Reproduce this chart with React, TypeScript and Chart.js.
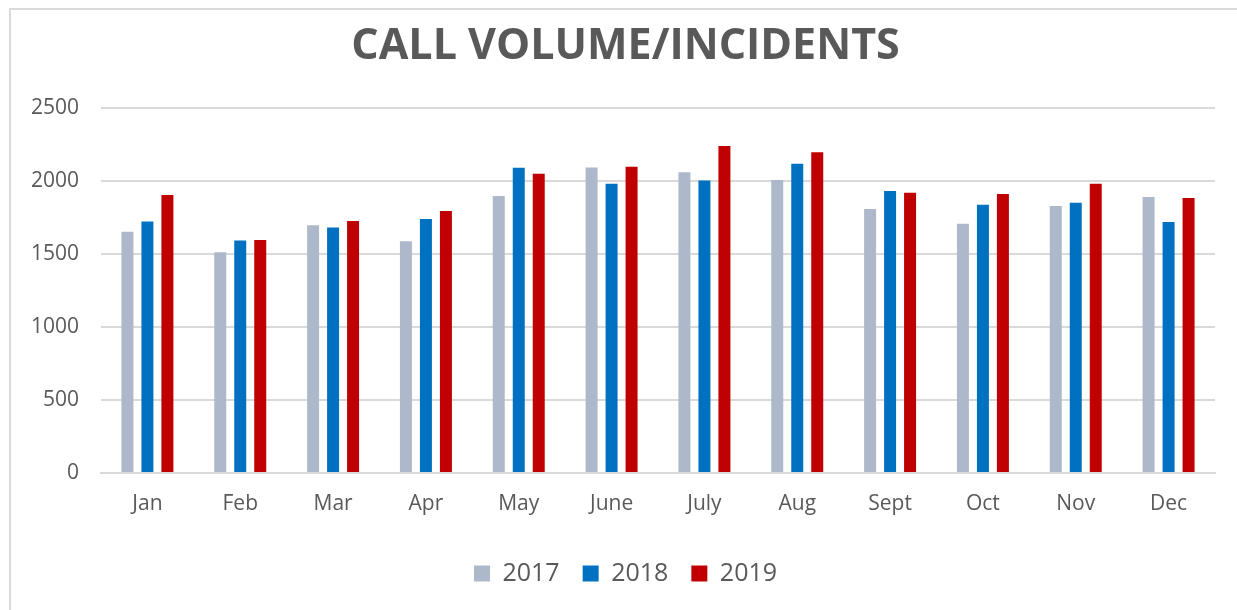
import React, { useEffect, useRef } from "react";
import { Chart, registerables } from "chart.js";

Chart.register(...registerables);

const months = ["Jan", "Feb", "Mar", "Apr", "May", "June", "July", "Aug", "Sept", "Oct", "Nov", "Dec"];
const v2017 = [1650, 1510, 1695, 1585, 1895, 2090, 2057, 2005, 1806, 1705, 1827, 1888];
const v2018 = [1720, 1590, 1680, 1738, 2089, 1979, 2002, 2116, 1929, 1836, 1849, 1717];
const v2019 = [1902, 1594, 1724, 1792, 2048, 2096, 2237, 2194, 1918, 1909, 1979, 1881];
const seriesLabels = ["2017", "2018", "2019"];
const titleText = "CALL VOLUME/INCIDENTS";

const TEXT = "#595959";
const GRID = "#d9d9d9";
const FONT = "'Open Sans', 'Liberation Sans', sans-serif";

export default function App() {
  const ref = useRef<HTMLCanvasElement | null>(null);

  useEffect(() => {
    if (!ref.current) return;
    const chart = new Chart(ref.current, {
      type: "bar",
      data: {
        labels: months,
        datasets: [
          { label: seriesLabels[0], data: v2017, backgroundColor: "#adb9ca" },
          { label: seriesLabels[1], data: v2018, backgroundColor: "#0070c0" },
          { label: seriesLabels[2], data: v2019, backgroundColor: "#c00000" },
        ],
      },
      options: {
        animation: false,
        responsive: false,
        maintainAspectRatio: false,
        layout: { padding: { left: 14, right: 0, top: 0, bottom: 14 } },
        datasets: { bar: { categoryPercentage: 0.646, barPercentage: 0.6 } },
        plugins: {
          tooltip: { enabled: false },
          title: {
            display: true,
            text: titleText,
            color: TEXT,
            font: { family: FONT, size: 43, weight: "bold", lineHeight: 1.2 },
            padding: { top: 21, bottom: 35 },
          },
          legend: {
            position: "bottom",
            labels: {
              color: TEXT,
              font: { family: FONT, size: 25 },
              boxWidth: 16,
              boxHeight: 16,
              padding: 23,
            },
          },
        },
        scales: {
          x: {
            grid: { display: false },
            border: { display: true, color: GRID, width: 2 },
            ticks: { color: TEXT, font: { family: FONT, size: 21 }, padding: 10, maxRotation: 0 },
            afterFit: (s: any) => { s.height = 65; },
          },
          y: {
            min: 0,
            max: 2500,
            ticks: {
              stepSize: 500,
              color: TEXT,
              font: { family: FONT, size: 21 },
              padding: 22,
              callback: (v: any) => String(v),
            },
            grid: { color: GRID, lineWidth: 2, drawTicks: false },
            border: { display: false },
            afterFit: (s: any) => { s.width = 87; },
          },
          yRight: {
            position: "right",
            display: true,
            ticks: { display: false },
            grid: { display: false, drawTicks: false },
            border: { display: false },
            afterFit: (s: any) => { s.width = 22; },
          },
        },
      },
    });
    return () => chart.destroy();
  }, []);

  return (
    <div style={{ position: "fixed", left: 0, top: 0, width: 1237, height: 610, overflow: "hidden", background: "#fff" }}>
      <div
        style={{
          position: "absolute",
          left: 9,
          top: 8,
          width: 1400,
          height: 800,
          borderTop: `2px solid ${GRID}`,
          borderLeft: `2px solid ${GRID}`,
        }}
      />
      <canvas ref={ref} width={1237} height={610} style={{ position: "absolute", left: 0, top: 0, width: 1237, height: 610 }} />
    </div>
  );
}
